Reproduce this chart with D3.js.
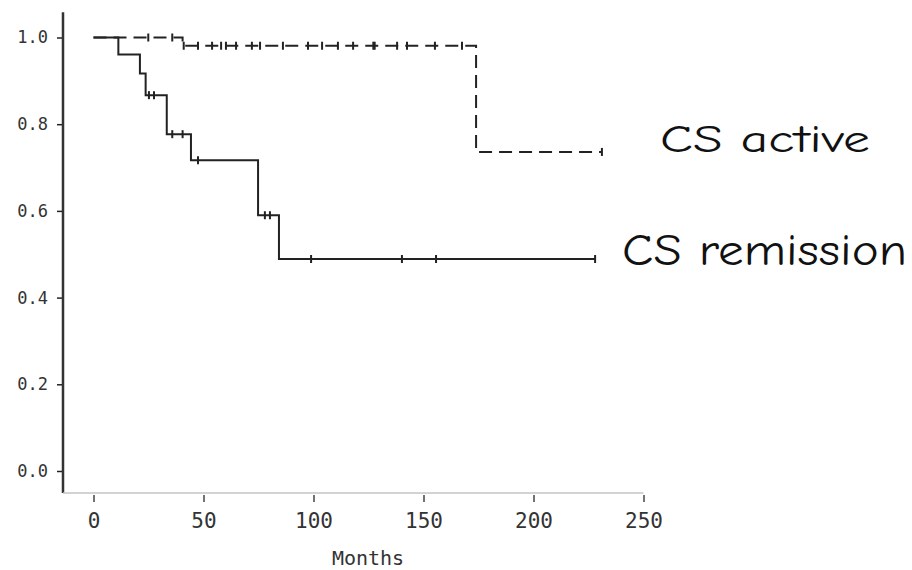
<!DOCTYPE html>
<html>
<head>
<meta charset="utf-8">
<script src="https://cdn.jsdelivr.net/npm/d3@7"></script>
<style>
  html, body { margin: 0; padding: 0; background: #fff; }
  svg { display: block; }
</style>
</head>
<body>
<svg id="chart" width="912" height="570"></svg>
<script>
// ---- data ----
const xTicks = [0, 50, 100, 150, 200, 250];
const yTicks = [0.0, 0.2, 0.4, 0.6, 0.8, 1.0];
const seriesNames = ["CS active", "CS remission"];
const xTitle = "Months";

// CS remission: event times (months) and survival after each step
const remTimes = [0, 11.3, 21.1, 23.7, 33.3, 44.3, 74.8, 84.3];
const remSurv  = [1.0, 0.961, 0.917, 0.867, 0.777, 0.717, 0.590, 0.489];
const remEnd = 228.0;
const remCensor = [25.2, 27.5, 35.8, 40.5, 47.5, 77.9, 80.2, 98.9, 140.2, 155.7, 228.0];

// CS active
const actTimes = [0, 40.5, 173.9];
const actSurv  = [1.0, 0.981, 0.736];
const actEnd = 231.1;
const actCensor = [24.9, 35.8, 41.0, 47.5, 53.9, 58.0, 60.2, 64.8, 72.0, 75.7, 86.1, 97.5, 103.9,
                   111.1, 118.0, 127.2, 127.8, 138.0, 142.5, 155.2, 167.5, 231.1];

// ---- layout ----
const svg = d3.select("#chart");
const x = d3.scaleLinear().domain([0, 250]).range([93.5, 643.5]);
const y = d3.scaleLinear().domain([0, 1]).range([471, 37.5]);
const axisX = 63;     // y-axis position (px)
const axisY = 493;    // x-axis position (px)
const ink = "#222";

// y axis
const yAxis = d3.axisLeft(y).tickValues(yTicks).tickFormat(d3.format(".1f")).tickSize(6).tickSizeOuter(0);
const gy = svg.append("g").attr("transform", `translate(${axisX},0)`).call(yAxis);
gy.select(".domain").remove();
gy.selectAll(".tick line").attr("stroke", ink).attr("stroke-width", 1.5);
gy.selectAll(".tick text")
  .attr("x", -15)
  .attr("fill", "#333")
  .style("font-family", "'DejaVu Sans Mono', monospace")
  .style("font-size", "17px");
svg.append("line")
  .attr("x1", axisX).attr("x2", axisX)
  .attr("y1", y(1.058)).attr("y2", axisY)
  .attr("stroke", "#333").attr("stroke-width", 2.5);

// x axis
const xAxis = d3.axisBottom(x).tickValues(xTicks).tickFormat(d3.format("d")).tickSize(6).tickSizeOuter(0);
const gx = svg.append("g").attr("transform", `translate(0,${axisY})`).call(xAxis);
gx.select(".domain").remove();
gx.selectAll(".tick line").attr("stroke", "#444").attr("stroke-width", 1.5).attr("y1", 2).attr("y2", 9);
gx.selectAll(".tick text")
  .attr("y", 20)
  .attr("fill", "#333")
  .style("font-family", "'DejaVu Sans Mono', monospace")
  .style("font-size", "21px");
svg.append("line")
  .attr("x1", axisX).attr("x2", x(250))
  .attr("y1", axisY).attr("y2", axisY)
  .attr("stroke", "#c4c4c4").attr("stroke-width", 1.5);

svg.append("text")
  .attr("x", 368).attr("y", 565)
  .attr("text-anchor", "middle")
  .attr("fill", "#333")
  .style("font-family", "'DejaVu Sans Mono', monospace")
  .style("font-size", "20px")
  .text(xTitle);

// ---- curves ----
function stepPoints(times, surv, end) {
  const pts = times.map((t, i) => [t, surv[i]]);
  pts.push([end, surv[surv.length - 1]]);
  return pts;
}
function survAt(times, surv, t) {
  let s = surv[0];
  for (let i = 0; i < times.length; i++) if (times[i] <= t) s = surv[i];
  return s;
}
const line = d3.line().x(d => x(d[0])).y(d => y(d[1])).curve(d3.curveStepAfter);

function drawSeries(times, surv, end, censor, dash) {
  const g = svg.append("g");
  g.append("path")
    .datum(stepPoints(times, surv, end))
    .attr("d", line)
    .attr("fill", "none")
    .attr("stroke", ink)
    .attr("stroke-width", 2)
    .attr("stroke-dasharray", dash);
  g.selectAll("line.c").data(censor).enter().append("line")
    .attr("class", "c")
    .attr("x1", d => x(d)).attr("x2", d => x(d))
    .attr("y1", d => y(survAt(times, surv, d)) - 4)
    .attr("y2", d => y(survAt(times, surv, d)) + 4)
    .attr("stroke", ink).attr("stroke-width", 2);
}
drawSeries(remTimes, remSurv, remEnd, remCensor, null);
drawSeries(actTimes, actSurv, actEnd, actCensor, "13,7");

// ---- series labels ----
const labelFont = "'Comic Sans MS', 'Comic Neue', Lato, 'Noto Sans', sans-serif";
svg.append("text")
  .attr("x", 660).attr("y", 152)
  .attr("textLength", 210).attr("lengthAdjust", "spacingAndGlyphs")
  .attr("fill", "#111")
  .style("font-family", labelFont).style("font-size", "39px")
  .text(seriesNames[0]);
svg.append("text")
  .attr("x", 622).attr("y", 265)
  .attr("textLength", 285).attr("lengthAdjust", "spacingAndGlyphs")
  .attr("fill", "#111")
  .style("font-family", labelFont).style("font-size", "44px")
  .text(seriesNames[1]);
</script>
</body>
</html>
